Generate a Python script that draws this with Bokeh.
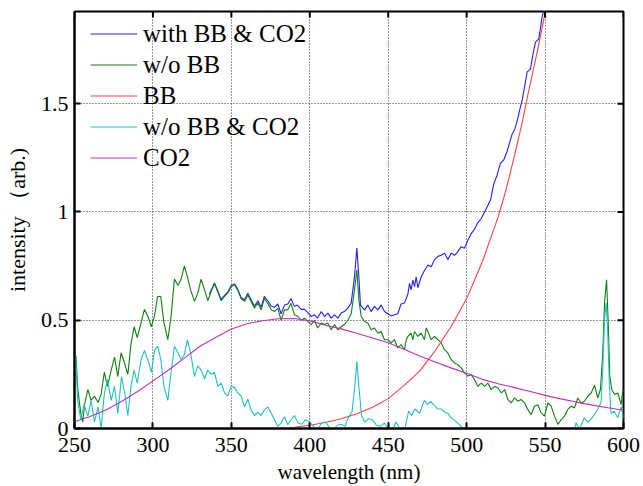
import math
from bokeh.plotting import figure
from bokeh.models import Range1d, FixedTicker, Legend, LegendItem
from bokeh.embed import file_html
from bokeh.resources import INLINE

# ---------------- data ----------------
x_ticks = [250, 300, 350, 400, 450, 500, 550, 600]
y_ticks = [0, 0.5, 1, 1.5]
y_tick_labels = {0: "0", 0.5: "0.5", 1: "1", 1.5: "1.5"}
x_lim = (250, 600)
y_lim = (0, 1.926)

# with BB & CO2 (only visible part; below ~336 nm it coincides with w/o BB)
wl_with = [336, 339.2, 341.4, 343.5, 345.6, 347.7, 349.9, 352, 354, 356.2, 358.4, 360.5, 362.6,
           364.7, 366.9, 369, 371, 373.2, 375.4, 377.5, 379.6, 381.7, 383.9, 386, 388, 390.2,
           392, 394.5, 396.6, 398.8, 400.9, 403, 405, 407.3, 409.4, 411.5, 413.6, 415.8, 417.9,
           420, 422, 424.3, 426.4, 428.5, 430, 431.3, 432.3, 434.9, 437, 439.1, 441.2, 443.4,
           445.5, 447.6, 449.8, 451.9, 454, 456.1, 458.2, 460.4, 462.5, 463.6, 464.6, 465.7,
           466.8, 467.8, 468.9, 471, 473.1, 475.3, 477.4, 479.5, 481.7, 483.8, 485.9, 488, 490.2,
           492.3, 494.4, 496.5, 498.6, 500.8, 502.9, 505, 507.1, 509.3, 511.4, 513.5, 515.2,
           517.3, 519.4, 521.5, 523.6, 525.8, 527.4, 529, 530.6, 532.2, 533.8, 535.4, 537,
           538.6, 540.7, 542.3, 543.9, 546, 548.1, 550]
int_with = [0.62, 0.672, 0.635, 0.595, 0.615, 0.63, 0.66, 0.668, 0.645, 0.605, 0.595, 0.625, 0.595,
            0.565, 0.59, 0.56, 0.61, 0.59, 0.565, 0.56, 0.575, 0.53, 0.57, 0.575, 0.6, 0.564,
            0.57, 0.55, 0.55, 0.535, 0.517, 0.525, 0.51, 0.54, 0.517, 0.533, 0.51, 0.525, 0.51,
            0.533, 0.54, 0.556, 0.58, 0.70, 0.833, 0.70, 0.57, 0.548, 0.57, 0.54, 0.564, 0.548,
            0.57, 0.54, 0.53, 0.52, 0.525, 0.53, 0.575, 0.58, 0.62, 0.67, 0.64, 0.685,
            0.655, 0.70, 0.65, 0.70, 0.73, 0.755, 0.747, 0.78, 0.795, 0.80, 0.81, 0.78, 0.81,
            0.80, 0.817, 0.84, 0.833, 0.87, 0.90, 0.92, 0.95, 0.97, 1.0, 1.03, 1.055,
            1.13, 1.17, 1.225, 1.24, 1.28, 1.32, 1.36, 1.38, 1.42, 1.47, 1.516, 1.58,
            1.647, 1.66, 1.73, 1.785, 1.80, 1.90, 1.96]

# w/o BB
wl_wobb = [250, 251, 252, 254, 255.3, 256.4, 258.5, 260.6, 262.7, 265, 267, 269, 271, 273.4,
           275.5, 277.6, 279.7, 282, 284, 286, 288, 290, 292.5, 294.6, 296.7, 299, 301, 303,
           305, 307, 309.5, 311.6, 313.7, 316, 318, 320, 322, 324, 326.5, 328.6, 330.7, 332.9,
           335, 337, 339.2, 341.4, 343.5, 345.6, 347.7, 349.9, 352, 354, 356.2, 358.4, 360.5,
           362.6, 364.7, 366.9, 369, 371, 373.2, 375.4, 377.5, 379.6, 381.7, 383.9, 386, 388,
           390.2, 392, 394.5, 396.6, 398.8, 400.9, 403, 405, 407.3, 409.4, 411.5, 413.6, 415.8,
           417.9, 420, 422, 424.3, 426.4, 428.5, 430, 431.3, 432.8, 434.9, 437, 439.1, 441.2,
           443.4, 445.5, 447.6, 449.8, 451.9, 454, 456.1, 458.2, 460.4, 461.5, 462.5, 464.6,
           465.7, 466.8, 468.9, 471, 473.1, 474.2, 475.3, 477.4, 479.5, 481.7, 483.8, 485.9,
           488, 490.2, 492.3, 494.4, 496.5, 498.6, 500.8, 502.9, 505, 507.1, 509.3, 511.4,
           513.5, 515.6, 517.8, 520, 522, 524.2, 526.3, 528.4, 530.5, 532.6, 534.7, 536.9,
           539, 541.1, 543.2, 545.4, 547.5, 549.6, 551.8, 553.9, 556, 558.1, 560.3, 562.4,
           564.5, 566.6, 568.7, 570.9, 573, 575.1, 577.2, 579.4, 581.5, 583.6, 585.3, 586.8,
           587.9, 589.2, 590.2, 591.3, 592.5, 594.3, 596.4, 598.5, 599.6, 600.5]
int_wobb = [0.35, 0.33, 0.19, 0.07, 0.03, 0.11, 0.18, 0.13, 0.15, 0.12, 0.16, 0.26, 0.195, 0.27,
            0.33, 0.24, 0.35, 0.30, 0.25, 0.39, 0.47, 0.42, 0.49, 0.55, 0.52, 0.47, 0.52, 0.61,
            0.61, 0.49, 0.41, 0.52, 0.69, 0.66, 0.69, 0.75, 0.70, 0.64, 0.587, 0.625, 0.69, 0.64,
            0.59, 0.63, 0.67, 0.63, 0.59, 0.61, 0.625, 0.655, 0.664, 0.64, 0.60, 0.587, 0.617,
            0.587, 0.556, 0.58, 0.548, 0.60, 0.578, 0.548, 0.54, 0.556, 0.50, 0.548, 0.548, 0.578,
            0.525, 0.52, 0.50, 0.51, 0.494, 0.48, 0.50, 0.464, 0.487, 0.48, 0.487, 0.456, 0.48,
            0.456, 0.47, 0.48, 0.50, 0.53, 0.64, 0.733, 0.594, 0.517, 0.494, 0.487, 0.456, 0.464,
            0.44, 0.448, 0.41, 0.41, 0.395, 0.41, 0.372, 0.387, 0.364, 0.41, 0.425, 0.44,
            0.41, 0.448, 0.425, 0.44, 0.41, 0.464, 0.448, 0.41, 0.425, 0.41, 0.395, 0.364,
            0.349, 0.318, 0.303, 0.295, 0.28, 0.257, 0.242, 0.249, 0.226, 0.195, 0.21, 0.195,
            0.21, 0.18, 0.195, 0.187, 0.165, 0.18, 0.134, 0.118, 0.141, 0.126, 0.134, 0.118,
            0.088, 0.064, 0.103, 0.11, 0.072, 0.057, 0.118, 0.103, 0.057, 0.019, 0.041, 0.057,
            0.088, 0.103, 0.095, 0.141, 0.118, 0.126, 0.149, 0.164, 0.20, 0.141, 0.18, 0.35,
            0.58, 0.687, 0.50, 0.24, 0.18, 0.157, 0.164, 0.11, 0.18, 0.17]

# BB (blackbody)
wl_bb = [374, 380, 390, 400, 410, 420, 430, 440, 450, 460, 470, 480, 490, 500, 510, 520,
         525, 530, 535, 540, 545, 550, 553]
int_bb = [0.0, 0.002, 0.006, 0.015, 0.028, 0.045, 0.068, 0.098, 0.138, 0.198, 0.265, 0.36,
          0.47, 0.60, 0.77, 0.975, 1.1, 1.245, 1.4, 1.575, 1.74, 1.92, 2.04]

# w/o BB & CO2
wl_wo = [250, 251, 252, 254, 256, 258.5, 260.6, 262.7, 265, 267, 269, 271, 273.4, 275.5, 277.6,
         280, 282, 284, 286, 288, 290, 292.5, 294.6, 296.7, 299, 301, 303, 305, 307, 309.5,
         311.6, 313.7, 316, 318, 320, 322, 324, 326.5, 328.6, 330.7, 332.9, 335, 337, 339.2,
         341.4, 343.5, 345.6, 347.7, 349.9, 352, 354, 356.2, 358.4, 360.5, 362.6, 364.7, 366.9,
         369, 371, 373.2, 375.4, 377.5, 379.6, 381.7, 383.9, 386, 388, 390.2, 392.5, 395, 397,
         400, 402.5, 405, 407.5, 410, 412.5, 415, 417.5, 420, 422.5, 424, 427, 428.8, 430,
         431.2, 433, 435, 437.5, 440, 442.5, 445, 447.5, 450, 452.5, 455, 457.5, 460, 461, 463,
         465, 467, 470, 473, 475, 477, 479, 481.5, 484, 486, 488, 490, 492, 495, 498, 500, 568,
         569.8, 571.5, 573, 575, 577, 579, 581.5, 583.6, 585.7, 586.8, 587.9, 589, 590, 591,
         592, 594, 596.4, 598.5, 600.6]
int_wo = [0.35, 0.30, 0.13, 0.04, 0.11, 0.057, 0.13, 0.03, 0.10, 0.0, 0.16, 0.226, 0.13, 0.195,
          0.07, 0.24, 0.165, 0.06, 0.195, 0.27, 0.21, 0.32, 0.36, 0.32, 0.26, 0.36, 0.38, 0.32,
          0.195, 0.13, 0.26, 0.38, 0.35, 0.32, 0.34, 0.41, 0.35, 0.24, 0.29, 0.27, 0.23, 0.27,
          0.25, 0.26, 0.195, 0.21, 0.165, 0.15, 0.195, 0.19, 0.165, 0.15, 0.10, 0.135, 0.085,
          0.06, 0.075, 0.06, 0.085, 0.10, 0.07, 0.04, 0.01, 0.025, 0.055, 0.017, 0.04, 0.06,
          0.025, 0.02, 0.04, 0.03, 0.01, -0.005, 0.025, 0.03, 0.005, -0.005, 0.015, 0.02, 0.01,
          0.04, 0.08, 0.2, 0.31, 0.2, 0.06, 0.03, 0.045, 0.04, 0.015, 0.01, 0.025, 0.0, -0.01,
          0.03, 0.0, -0.01, 0.01, 0.08, 0.06, 0.09, 0.07, 0.13, 0.11, 0.125, 0.11, 0.09, 0.09,
          0.075, 0.07, 0.05, 0.04, 0.02, 0.0, -0.03, -0.03, 0.027, 0.0, 0.015, 0.05, 0.03, 0.04,
          0.065, 0.09, 0.12, 0.27, 0.50, 0.58, 0.43, 0.2, 0.07, 0.08, 0.05, 0.1, 0.04]

# CO2
wl_co2 = [250, 260, 270, 280, 290, 300, 310, 320, 330, 340, 350, 360, 370, 380, 390, 400, 410,
          420, 430, 440, 450, 460, 470, 480, 490, 500, 510, 520, 530, 540, 550, 560, 570, 580,
          590, 600]
int_co2 = [0.031, 0.055, 0.085, 0.125, 0.17, 0.22, 0.27, 0.325, 0.38, 0.42, 0.46, 0.484, 0.498,
           0.507, 0.508, 0.497, 0.477, 0.46, 0.44, 0.418, 0.396, 0.366, 0.335, 0.307, 0.28, 0.255,
           0.227, 0.207, 0.19, 0.172, 0.153, 0.137, 0.122, 0.108, 0.096, 0.084]

series_names = ["with BB & CO2", "w/o BB", "BB", "w/o BB & CO2", "CO2"]
series_colors = ["#2020ff", "#108010", "#ff4040", "#20c0c0", "#c030c0"]

# ---------------- figure ----------------
FONT = "Liberation Serif"
p = figure(width=643, height=486, output_backend="svg", toolbar_location=None,
           x_range=Range1d(*x_lim), y_range=Range1d(*y_lim),
           min_border_left=74, min_border_right=20, min_border_top=11, min_border_bottom=57)
p.background_fill_color = "white"
p.border_fill_color = "white"
p.outline_line_color = "black"
p.outline_line_width = 2

xt = FixedTicker(ticks=x_ticks, minor_ticks=[])
yt = FixedTicker(ticks=y_ticks, minor_ticks=[])

for ax, t in ((p.xaxis[0], xt), (p.yaxis[0], yt)):
    ax.ticker = t
    ax.axis_line_width = 2
    ax.major_tick_in = 6
    ax.major_tick_out = 0
    ax.major_tick_line_width = 2
    ax.minor_tick_line_color = None
    ax.major_label_text_font = FONT
    ax.major_label_text_font_size = "22px"
    ax.major_label_text_color = "black"
    ax.axis_label_text_font = FONT
    ax.axis_label_text_font_style = "normal"
    ax.axis_label_text_color = "black"

p.xaxis.axis_label = "wavelength (nm)"
p.yaxis.axis_label = "intensity （arb.)"
p.xaxis.axis_label_text_font_size = "21px"
p.yaxis.axis_label_text_font_size = "22px"
p.yaxis.major_label_overrides = y_tick_labels
p.xaxis.major_label_standoff = 9
p.yaxis.major_label_standoff = 6
p.xaxis.axis_label_standoff = 5
p.yaxis.axis_label_standoff = 8

for g, t in ((p.xgrid[0], xt), (p.ygrid[0], yt)):
    g.ticker = t
    g.grid_line_color = "#303030"
    g.grid_line_dash = "1 2"
    g.grid_line_width = 1

renderers = []
data = [(wl_with, int_with), (wl_wobb, int_wobb), (wl_bb, int_bb), (wl_wo, int_wo), (wl_co2, int_co2)]
for (xs, ys), c in zip(data, series_colors):
    renderers.append(p.line(xs, ys, line_color=c, line_width=1.1))

# inward tick marks on the top and right edges (half of each dash is clipped by the frame)
p.scatter(x_ticks, [y_lim[1]] * len(x_ticks), marker="dash", angle=math.pi / 2, size=12,
          line_color="black", line_width=2)
p.scatter([x_lim[1]] * len(y_ticks), y_ticks, marker="dash", size=12,
          line_color="black", line_width=2)

items = [LegendItem(label=n, renderers=[r]) for n, r in zip(series_names, renderers)]
legend = Legend(items=items, location=(16, 255), label_text_font=FONT, label_text_font_size="25px",
                label_text_color="black",
                glyph_width=47, glyph_height=31, label_height=31, spacing=0, padding=0, margin=0,
                label_standoff=6, background_fill_alpha=0, border_line_alpha=0)
p.add_layout(legend, "center")

open("out.html", "w").write(file_html(p, INLINE))
